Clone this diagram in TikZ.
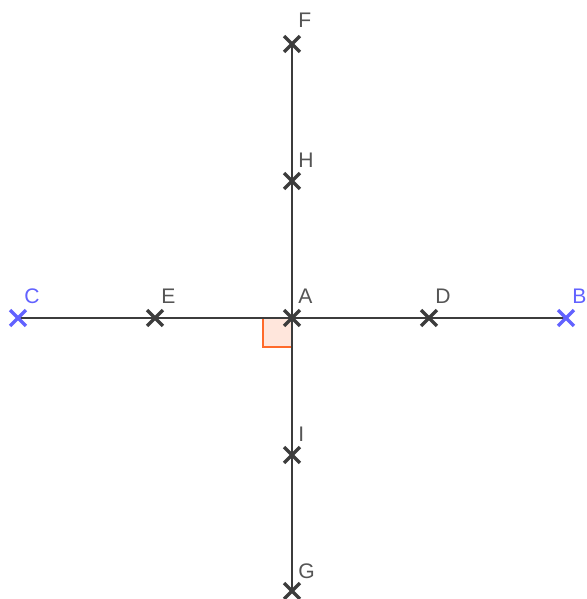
\documentclass[tikz,border=0pt]{standalone}
\usepackage{fontspec}
\setmainfont{Liberation Sans}
\usetikzlibrary{shapes.misc}
\definecolor{ptgray}{HTML}{3C3C3C}
\definecolor{lblgray}{HTML}{555555}
\definecolor{ptblue}{HTML}{6262FF}
\definecolor{angleline}{HTML}{FF6A2A}
\definecolor{anglefill}{HTML}{FFE6DC}
\tikzset{
  axis/.style={draw=ptgray, line width=1.5pt},
  xpt/.style={cross out, draw=ptgray, line width=1.9pt, minimum size=0.25cm, inner sep=0pt},
  bluept/.style={xpt, draw=ptblue},
  lbl/.style={anchor=west, inner sep=0pt, text=lblgray, font=\fontsize{12}{14}\selectfont},
  bluelbl/.style={lbl, text=ptblue}
}
\begin{document}
\begin{tikzpicture}[x=0.02cm, y=-0.02cm]
  \useasboundingbox (0,0) rectangle (587,599);
  \coordinate (A) at (292,318);
  \coordinate (C) at (18,318);
  \coordinate (B) at (566,318);
  \coordinate (E) at (155,318);
  \coordinate (D) at (429,318);
  \coordinate (F) at (292,44);
  \coordinate (H) at (292,181);
  \coordinate (I) at (292,455);
  \coordinate (G) at (292,591);
  % right angle at A
  \filldraw[draw=angleline, fill=anglefill, line width=1.3pt] (263,318) rectangle (292,347);
  \draw[axis] (C) -- (B);
  \draw[axis] (F) -- (G);
  \node[xpt] (pA) at (A) {};
  \node[xpt] (pE) at (E) {};
  \node[xpt] (pD) at (D) {};
  \node[xpt] (pF) at (F) {};
  \node[xpt] (pH) at (H) {};
  \node[xpt] (pI) at (I) {};
  \node[xpt] (pG) at (G) {};
  \node[bluept] (pC) at (C) {};
  \node[bluept] (pB) at (B) {};
  \node[lbl] (lA) at ([shift={(6,-22)}]A) {A};
  \node[lbl] (lE) at ([shift={(6,-22)}]E) {E};
  \node[lbl] (lD) at ([shift={(6,-22)}]D) {D};
  \node[lbl] (lF) at ([shift={(6,-24)}]F) {F};
  \node[lbl] (lH) at ([shift={(6,-21)}]H) {H};
  \node[lbl] (lI) at ([shift={(6,-21)}]I) {I};
  \node[lbl] (lG) at ([shift={(6,-20)}]G) {G};
  \node[bluelbl] (lC) at ([shift={(6,-22)}]C) {C};
  \node[bluelbl] (lB) at ([shift={(6,-22)}]B) {B};
\end{tikzpicture}
\end{document}
